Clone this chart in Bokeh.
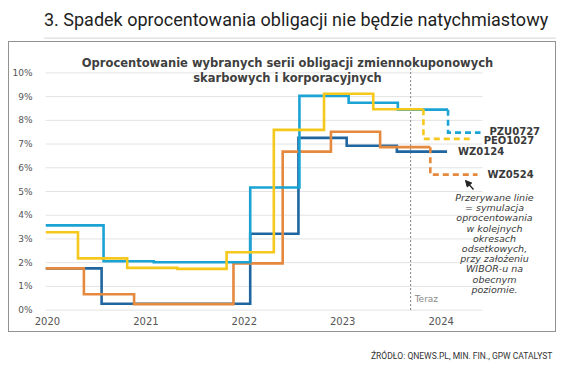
from bokeh.plotting import figure
from bokeh.layouts import column
from bokeh.models import Label, BoxAnnotation, Arrow, NormalHead, FixedTicker, PrintfTickFormatter, Range1d
from bokeh.embed import file_html
from bokeh.resources import INLINE

# ---------------- data ----------------
years = [2020, 2021, 2022, 2023, 2024]
pct_ticks = [0, 1, 2, 3, 4, 5, 6, 7, 8, 9, 10]

pzu_name = "PZU0727"
pzu_dates = [2019.98, 2020.57, 2021.08, 2022.06, 2022.56, 2023.06, 2023.56]
pzu_rates = [3.57, 2.06, 2.02, 5.17, 9.03, 8.74, 8.45]
pzu_end = 2024.07
pzu_sim = 7.48
pzu_sim_end = 2024.40

peo_name = "PEO1027"
peo_dates = [2019.98, 2020.31, 2020.81, 2021.32, 2021.82, 2022.30, 2022.81, 2023.31]
peo_rates = [3.28, 2.18, 1.78, 1.74, 2.44, 7.60, 9.12, 8.47]
peo_end = 2023.82
peo_sim = 7.22
peo_sim_end = 2024.29

wz0124_name = "WZ0124"
wz0124_dates = [2019.98, 2020.55, 2022.06, 2022.55, 2023.04, 2023.55]
wz0124_rates = [1.76, 0.27, 3.22, 7.26, 6.93, 6.68]
wz0124_end = 2024.06

wz0524_name = "WZ0524"
wz0524_dates = [2019.98, 2020.37, 2020.88, 2021.89, 2022.39, 2022.88, 2023.38]
wz0524_rates = [1.76, 0.67, 0.25, 1.97, 6.68, 7.52, 6.87]
wz0524_end = 2023.89
wz0524_sim = 5.71
wz0524_sim_end = 2024.37

now_x = 2023.69
grid_end = 2024.42

page_title = "3. Spadek oprocentowania obligacji nie będzie natychmiastowy"
chart_title = ["Oprocentowanie wybranych serii obligacji zmiennokuponowych",
               "skarbowych i korporacyjnych"]
source_text = "ŹRÓDŁO: QNEWS.PL, MIN. FIN., GPW CATALYST"
note_lines = ["Przerywane linie", "= symulacja", "oprocentowania", "w kolejnych",
              "okresach", "odsetkowych,", "przy założeniu", "WIBOR-u na",
              "obecnym", "poziomie."]

# ---------------- layout (page coordinates) ----------------
PAGE_W = 564
TITLE_H = 40
CH_X, CH_Y, CH_W, CH_H = 9, 42, 546, 289
SRC_Y = 333
SRC_H = 366 - SRC_Y
FL, FR, FT, FB = 45, 554, 44, 312          # chart frame, page coords
PX_PER_YEAR = 98.42
PX_PER_PCT = 23.72
ZERO_PY = 309.6
X0 = 2019.98
X1 = X0 + (FR - FL) / PX_PER_YEAR
Y1 = (ZERO_PY - FT) / PX_PER_PCT
Y0 = (ZERO_PY - FB) / PX_PER_PCT


def px2x(px):
    return X0 + (px - FL) / PX_PER_YEAR


def py2y(py):
    return (ZERO_PY - py) / PX_PER_PCT


def blank(h, y_top):
    f = figure(width=PAGE_W, height=h, output_backend="svg", toolbar_location=None,
               x_range=Range1d(0, PAGE_W), y_range=Range1d(y_top + h, y_top),
               x_axis_type=None, y_axis_type=None,
               min_border=0, min_border_left=0, min_border_right=0,
               min_border_top=0, min_border_bottom=0)
    f.outline_line_color = None
    f.xgrid.visible = False
    f.ygrid.visible = False
    return f


# ---- page title ----
t = blank(TITLE_H, 0)
t.add_layout(Label(x=8, y=19, text=page_title, text_font="Roboto",
                   text_font_size="18px", text_color="#1e1e1e",
                   text_align="left", text_baseline="middle"))
t.add_layout(BoxAnnotation(left=8, right=556, top=37, bottom=38.2,
                           fill_color="#dcdcdc", fill_alpha=1, line_color=None))

# ---- chart ----
p = figure(width=CH_W, height=CH_H, output_backend="svg", toolbar_location=None,
           x_range=Range1d(X0, X1), y_range=Range1d(Y0, Y1),
           min_border_left=FL - CH_X, min_border_right=CH_X + CH_W - FR,
           min_border_top=FT - CH_Y, min_border_bottom=CH_Y + CH_H - FB,
           margin=(2, 9, 2, 9))
p.styles = {"outline": "1.5px solid #929292"}
p.outline_line_color = None
p.xgrid.visible = False
p.ygrid.visible = False

p.xaxis.ticker = FixedTicker(ticks=years)
p.yaxis.ticker = FixedTicker(ticks=pct_ticks)
p.yaxis.formatter = PrintfTickFormatter(format="%d%%")
for ax in (p.xaxis, p.yaxis):
    ax.axis_line_color = None
    ax.major_tick_line_color = None
    ax.minor_tick_line_color = None
    ax.major_tick_out = 0
    ax.major_tick_in = 0
    ax.minor_tick_out = 0
    ax.minor_tick_in = 0
    ax.major_label_text_font = "DejaVu Sans"
    ax.major_label_text_color = "#555555"
p.xaxis.major_label_text_font_size = "10px"
p.yaxis.major_label_text_font_size = "9px"
p.xaxis.major_label_standoff = 4
p.yaxis.major_label_standoff = 13

# horizontal grid lines at the percentage ticks
p.segment(x0=[X0] * len(pct_ticks), y0=pct_ticks, x1=[grid_end] * len(pct_ticks), y1=pct_ticks,
          line_color="#e3e3e3", line_width=1)

# "now" dotted line
p.segment(x0=[now_x], y0=[0], x1=[now_x], y1=[10.2], line_color="#7f7f7f",
          line_width=1, line_dash="2 2")
p.add_layout(Label(x=now_x, y=py2y(298), x_offset=4, text="Teraz", text_font="DejaVu Sans",
                   text_font_size="9px", text_color="#8a8a8a", text_baseline="middle"))


def step_xy(dates, rates, end):
    return list(dates) + [end], list(rates) + [rates[-1]]


def sim_xy(end, last, sim, sim_end):
    return [end, end, sim_end], [last, sim, sim]


series = [
    (wz0124_dates, wz0124_rates, wz0124_end, None, None, "#1f66a0"),
    (wz0524_dates, wz0524_rates, wz0524_end, wz0524_sim, wz0524_sim_end, "#e4893d"),
    (pzu_dates, pzu_rates, pzu_end, pzu_sim, pzu_sim_end, "#1ba3d4"),
    (peo_dates, peo_rates, peo_end, peo_sim, peo_sim_end, "#f6c81c"),
]
for dates, rates, end, sim, sim_end, col in series:
    xs, ys = step_xy(dates, rates, end)
    p.step(xs, ys, mode="after", line_color=col, line_width=2.6, line_join="miter")
    if sim is not None:
        sx, sy = sim_xy(end, rates[-1], sim, sim_end)
        p.line(sx, sy, line_color=col, line_width=2.6, line_dash="6 4", line_join="miter")

# series labels
for name, xend, yv, dx, dy in [
    (pzu_name, pzu_sim_end, pzu_sim, 9, 1),
    (peo_name, peo_sim_end, peo_sim, 14, -2),
    (wz0124_name, wz0124_end, wz0124_rates[-1], 11, 0),
    (wz0524_name, wz0524_sim_end, wz0524_sim, 10, 0),
]:
    p.add_layout(Label(x=xend, y=yv, x_offset=dx, y_offset=dy, text=name, text_font="DejaVu Sans",
                       text_font_style="bold", text_font_size="10px", text_color="#3a3a3a",
                       text_baseline="middle", text_align="left"))

# arrow
p.add_layout(Arrow(x_start=px2x(473), y_start=py2y(189), x_end=px2x(465), y_end=py2y(180),
                   line_color="#222222", line_width=1.3,
                   end=NormalHead(size=6, fill_color="#222222", line_color="#222222")))

# note
for i, line in enumerate(note_lines):
    p.add_layout(Label(x=px2x(494), y=py2y(197 + i * 10.2), text=line, text_font="DejaVu Sans",
                       text_font_style="italic", text_font_size="9.5px", text_color="#3a3a3a",
                       text_align="center", text_baseline="middle"))

# chart title
for line, py in zip(chart_title, [62, 77]):
    p.add_layout(Label(x=px2x(287), y=py2y(py), text=line, text_font="DejaVu Sans",
                       text_font_style="bold", text_font_size="11.5px", text_color="#404040",
                       text_align="center", text_baseline="middle"))

# ---- source ----
s = blank(SRC_H, SRC_Y)
s.add_layout(Label(x=552, y=355, text=source_text, text_font="Roboto",
                   text_font_size="8.5px", text_color="#333333",
                   text_align="right", text_baseline="middle"))

layout = column(t, p, s)
open("out.html", "w").write(file_html(layout, INLINE))
